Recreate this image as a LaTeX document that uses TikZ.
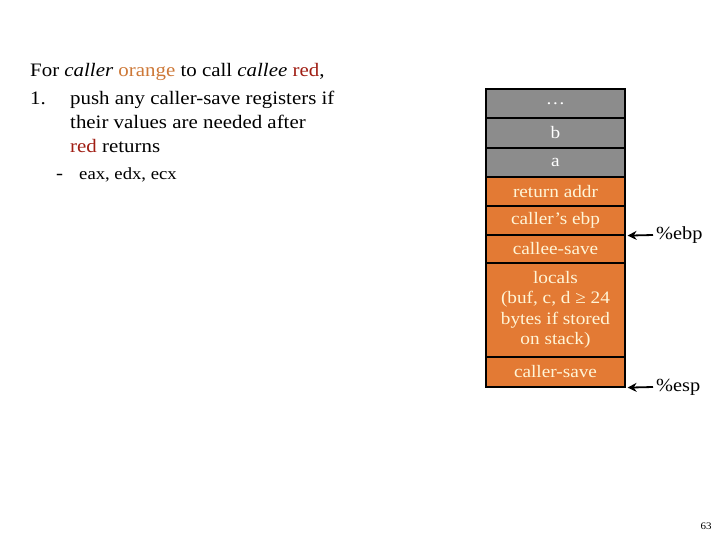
\documentclass[tikz,border=0pt]{standalone}
\usepackage{fontspec}
\setmainfont{Liberation Serif}[FakeStretch=1.1]
\usetikzlibrary{arrows.meta}
\begin{document}
\begin{tikzpicture}[x=1pt,y=-1pt,
  cellO/.style={draw=black,line width=1.2pt,fill=cello,text=cream,font=\fontsize{17.5}{20.5}\selectfont,align=center,minimum width=139pt,inner sep=0pt},
  cellG/.style={cellO,fill=cellg,text=white},
  txt/.style={anchor=base west,font=\fontsize{19}{22}\selectfont,inner sep=0pt},
  ptr/.style={-{Stealth[length=9pt,width=9pt]},line width=1.8pt}]
\definecolor{cello}{RGB}{227,122,52}
\definecolor{cellg}{RGB}{140,140,140}
\definecolor{cream}{RGB}{255,245,215}
\definecolor{orng}{RGB}{205,120,55}
\definecolor{rd}{RGB}{160,30,20}
\useasboundingbox (0,0) rectangle (720,540);
\node[txt] (t0) at (30,77) {For \textit{caller} \textcolor{orng}{orange} to call \textit{callee} \textcolor{rd}{red},};
\node[txt] (n1) at (30,105) {1.};
\node[txt] (t1) at (70,105) {push any caller-save registers if};
\node[txt] (t2) at (70,129) {their values are needed after};
\node[txt] (t3) at (70,153) {\textcolor{rd}{red} returns};
\node[txt] (d1) at (56,180) {-};
\node[txt,font=\fontsize{17}{20}\selectfont] (t4) at (79,180) {eax, edx, ecx};
\node[cellG,minimum height=29pt] (c1) at (555.5,103.5) {\ldots};
\node[cellG,minimum height=30pt] (c2) at (555.5,133) {b};
\node[cellG,minimum height=29pt] (c3) at (555.5,162.5) {a};
\node[cellO,minimum height=29pt] (c4) at (555.5,191.5) {return addr};
\node[cellO,minimum height=29pt] (c5) at (555.5,220.5) {caller’s ebp};
\node[cellO,minimum height=28pt] (c6) at (555.5,249) {callee-save};
\node[cellO,minimum height=94pt] (c7) at (555.5,310) {locals\\(buf, c, d ≥ 24\\bytes if stored\\on stack)};
\node[cellO,minimum height=30pt] (c8) at (555.5,372) {caller-save};
\node[anchor=west,font=\fontsize{18.5}{22}\selectfont,inner sep=0pt] (ebp) at (656,235) {\%ebp};
\node[anchor=west,font=\fontsize{18.5}{22}\selectfont,inner sep=0pt] (esp) at (656,387) {\%esp};
\draw[ptr] ([xshift=-3pt]ebp.west) -- ([xshift=2pt]c5.south east);
\draw[ptr] ([xshift=-3pt]esp.west) -- ([xshift=2pt]c8.south east);
\node[font=\fontsize{10}{12}\selectfont] (pg) at (706,526) {63};
\end{tikzpicture}
\end{document}
